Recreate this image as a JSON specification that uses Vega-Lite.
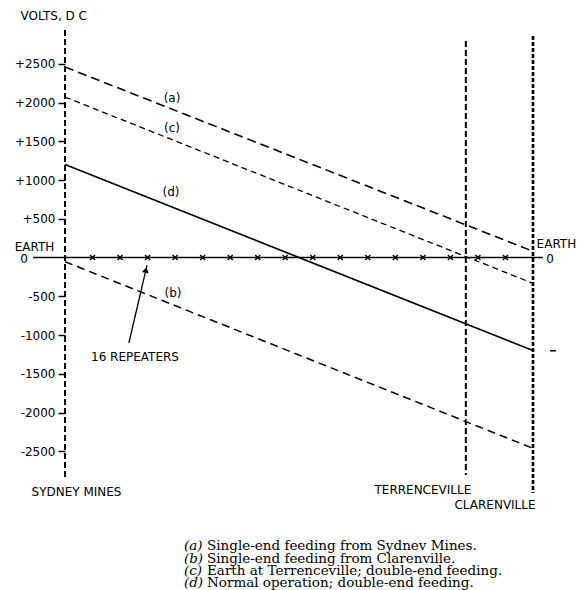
{
  "$schema": "https://vega.github.io/schema/vega-lite/v6.json",
  "width": 468,
  "height": 590,
  "autosize": "none",
  "padding": {"left": 65, "right": 46, "top": 0, "bottom": 0},
  "background": "white",
  "config": {"view": {"stroke": null}, "font": "DejaVu Sans"},
  "resolve": {"axis": {"x": "independent", "y": "independent"}},
  "datasets": {
    "stations": [
      {"name": "Sydney Mines", "x": 0, "v": 2935, "v2": -2871},
      {"name": "Terrenceville", "x": 14.56, "v": 2794, "v2": -2806},
      {"name": "Clarenville", "x": 17, "v": 2858, "v2": -3039}
    ],
    "lines": [
      {"series": "a", "x": 0, "v": 2458},
      {"series": "a", "x": 17, "v": 80},
      {"series": "c", "x": 0, "v": 2071},
      {"series": "c", "x": 17, "v": -333},
      {"series": "d", "x": 0, "v": 1200},
      {"series": "d", "x": 17, "v": -1200},
      {"series": "b", "x": 0, "v": -54},
      {"series": "b", "x": 17, "v": -2462},
      {"series": "zero", "x": -1.16, "v": 0},
      {"series": "zero", "x": 17.36, "v": 0},
      {"series": "arrow", "x": 2.32, "v": -1103},
      {"series": "arrow", "x": 2.98, "v": -97}
    ],
    "repeaters": [
      {"n": 1, "x": 1, "v": 0}, {"n": 2, "x": 2, "v": 0}, {"n": 3, "x": 3, "v": 0}, {"n": 4, "x": 4, "v": 0},
      {"n": 5, "x": 5, "v": 0}, {"n": 6, "x": 6, "v": 0}, {"n": 7, "x": 7, "v": 0}, {"n": 8, "x": 8, "v": 0},
      {"n": 9, "x": 9, "v": 0}, {"n": 10, "x": 10, "v": 0}, {"n": 11, "x": 11, "v": 0}, {"n": 12, "x": 12, "v": 0},
      {"n": 13, "x": 13, "v": 0}, {"n": 14, "x": 14, "v": 0}, {"n": 15, "x": 15, "v": 0}, {"n": 16, "x": 16, "v": 0}
    ],
    "labels": [
      {"text": "EARTH", "x": -1.108, "v": 140},
      {"text": "0", "x": -1.489, "v": -13},
      {"text": "(a)", "x": 3.887, "v": 2058},
      {"text": "(c)", "x": 3.887, "v": 1671},
      {"text": "(d)", "x": 3.85, "v": 845},
      {"text": "(b)", "x": 3.923, "v": -458},
      {"text": "16 REPEATERS", "x": 2.543, "v": -1284},
      {"text": "SYDNEY MINES", "x": 0.418, "v": -3026},
      {"text": "TERRENCEVILLE", "x": 13.0, "v": -3000},
      {"text": "CLARENVILLE", "x": 15.62, "v": -3194},
      {"text": "EARTH", "x": 17.85, "v": 170},
      {"text": "0", "x": 17.62, "v": -19}
    ],
    "captions": [
      {"tag": "(a)", "xt": 4.32, "x": 5.158, "v": -3723, "text": "Single-end feeding from Sydnev Mines."},
      {"tag": "(b)", "xt": 4.32, "x": 5.158, "v": -3884, "text": "Single-end feeding from Clarenville."},
      {"tag": "(c)", "xt": 4.32, "x": 5.158, "v": -4045, "text": "Earth at Terrenceville; double-end feeding."},
      {"tag": "(d)", "xt": 4.32, "x": 5.158, "v": -4206, "text": "Normal operation; double-end feeding."}
    ],
    "marks": [
      {"x": 17.62, "x2": 17.83, "v": -1203}
    ],
    "arrowhead": [
      {"x": 2.94, "v": -160}
    ]
  },
  "layer": [
    {
      "data": {"name": "stations"},
      "transform": [{"filter": "datum.name != 'Clarenville'"}],
      "mark": {"type": "rule", "color": "black", "strokeWidth": 2, "strokeDash": [6, 3]},
      "encoding": {
        "x": {"field": "x", "type": "quantitative", "scale": {"domain": [0, 17], "nice": false, "zero": false}, "axis": null},
        "y": {"field": "v", "type": "quantitative", "scale": {"domain": [-4290, 3323], "nice": false, "zero": false},
          "axis": {
            "values": [-2500, -2000, -1500, -1000, -500, 500, 1000, 1500, 2000, 2500],
            "labelExpr": "datum.value > 0 ? '+' + datum.value : '' + datum.value",
            "domain": false, "grid": false,
            "tickSize": 7, "tickWidth": 1.5, "tickColor": "black",
            "labelFont": "DejaVu Sans", "labelFontSize": 12, "labelColor": "black", "labelPadding": 3,
            "title": "VOLTS, D C", "titleAngle": 0, "titleX": -45, "titleY": 15,
            "titleAlign": "left", "titleBaseline": "middle", "titleFont": "DejaVu Sans",
            "titleFontSize": 12, "titleFontWeight": "normal", "titleColor": "black"
          }
        },
        "y2": {"field": "v2"}
      }
    },
    {
      "data": {"name": "stations"},
      "transform": [{"filter": "datum.name == 'Clarenville'"}],
      "mark": {"type": "rule", "color": "black", "strokeWidth": 2.6, "strokeDash": [4, 2]},
      "encoding": {
        "x": {"field": "x", "type": "quantitative", "scale": {"domain": [0, 17], "nice": false, "zero": false}, "axis": null},
        "y": {"field": "v", "type": "quantitative", "scale": {"domain": [-4290, 3323], "nice": false, "zero": false}, "axis": null},
        "y2": {"field": "v2"}
      }
    },
    {
      "data": {"name": "lines"},
      "transform": [{"filter": "datum.series == 'a'"}],
      "mark": {"type": "line", "color": "black", "strokeWidth": 1.6, "strokeDash": [9, 5]},
      "encoding": {
        "x": {"field": "x", "type": "quantitative", "scale": {"domain": [0, 17], "nice": false, "zero": false}, "axis": null},
        "y": {"field": "v", "type": "quantitative", "scale": {"domain": [-4290, 3323], "nice": false, "zero": false}, "axis": null}
      }
    },
    {
      "data": {"name": "lines"},
      "transform": [{"filter": "datum.series == 'b'"}],
      "mark": {"type": "line", "color": "black", "strokeWidth": 1.5, "strokeDash": [8, 5]},
      "encoding": {
        "x": {"field": "x", "type": "quantitative", "scale": {"domain": [0, 17], "nice": false, "zero": false}, "axis": null},
        "y": {"field": "v", "type": "quantitative", "scale": {"domain": [-4290, 3323], "nice": false, "zero": false}, "axis": null}
      }
    },
    {
      "data": {"name": "lines"},
      "transform": [{"filter": "datum.series == 'c'"}],
      "mark": {"type": "line", "color": "black", "strokeWidth": 1.3, "strokeDash": [6, 4]},
      "encoding": {
        "x": {"field": "x", "type": "quantitative", "scale": {"domain": [0, 17], "nice": false, "zero": false}, "axis": null},
        "y": {"field": "v", "type": "quantitative", "scale": {"domain": [-4290, 3323], "nice": false, "zero": false}, "axis": null}
      }
    },
    {
      "data": {"name": "lines"},
      "transform": [{"filter": "datum.series == 'd' || datum.series == 'zero' || datum.series == 'arrow'"}],
      "mark": {"type": "line", "color": "black"},
      "encoding": {
        "x": {"field": "x", "type": "quantitative", "scale": {"domain": [0, 17], "nice": false, "zero": false}, "axis": null},
        "y": {"field": "v", "type": "quantitative", "scale": {"domain": [-4290, 3323], "nice": false, "zero": false}, "axis": null},
        "detail": {"field": "series", "type": "nominal"},
        "strokeWidth": {"field": "series", "type": "nominal", "scale": {"domain": ["d", "zero", "arrow"], "range": [1.7, 1.3, 1.3]}, "legend": null}
      }
    },
    {
      "data": {"name": "repeaters"},
      "mark": {"type": "point", "shape": "M-1,-1L1,1M-1,1L1,-1", "filled": false, "color": "black", "strokeWidth": 1.4, "size": 25, "opacity": 1},
      "encoding": {
        "x": {"field": "x", "type": "quantitative", "scale": {"domain": [0, 17], "nice": false, "zero": false}, "axis": null},
        "y": {"field": "v", "type": "quantitative", "scale": {"domain": [-4290, 3323], "nice": false, "zero": false}, "axis": null}
      }
    },
    {
      "data": {"name": "arrowhead"},
      "mark": {"type": "point", "shape": "triangle-up", "filled": true, "color": "black", "size": 45, "angle": 13, "opacity": 1},
      "encoding": {
        "x": {"field": "x", "type": "quantitative", "scale": {"domain": [0, 17], "nice": false, "zero": false}, "axis": null},
        "y": {"field": "v", "type": "quantitative", "scale": {"domain": [-4290, 3323], "nice": false, "zero": false}, "axis": null}
      }
    },
    {
      "data": {"name": "marks"},
      "mark": {"type": "rule", "color": "black", "strokeWidth": 1.5},
      "encoding": {
        "x": {"field": "x", "type": "quantitative", "scale": {"domain": [0, 17], "nice": false, "zero": false}, "axis": null},
        "x2": {"field": "x2"},
        "y": {"field": "v", "type": "quantitative", "scale": {"domain": [-4290, 3323], "nice": false, "zero": false}, "axis": null}
      }
    },
    {
      "data": {"name": "labels"},
      "mark": {"type": "text", "font": "DejaVu Sans", "fontSize": 12, "align": "center", "baseline": "middle", "color": "black"},
      "encoding": {
        "x": {"field": "x", "type": "quantitative", "scale": {"domain": [0, 17], "nice": false, "zero": false}, "axis": null},
        "y": {"field": "v", "type": "quantitative", "scale": {"domain": [-4290, 3323], "nice": false, "zero": false}, "axis": null},
        "text": {"field": "text"}
      }
    },
    {
      "data": {"name": "captions"},
      "mark": {"type": "text", "font": "DejaVu Serif", "fontSize": 13.5, "fontStyle": "italic", "align": "left", "baseline": "middle", "color": "black"},
      "encoding": {
        "x": {"field": "xt", "type": "quantitative", "scale": {"domain": [0, 17], "nice": false, "zero": false}, "axis": null},
        "y": {"field": "v", "type": "quantitative", "scale": {"domain": [-4290, 3323], "nice": false, "zero": false}, "axis": null},
        "text": {"field": "tag"}
      }
    },
    {
      "data": {"name": "captions"},
      "mark": {"type": "text", "font": "DejaVu Serif", "fontSize": 13.5, "align": "left", "baseline": "middle", "color": "black"},
      "encoding": {
        "x": {"field": "x", "type": "quantitative", "scale": {"domain": [0, 17], "nice": false, "zero": false}, "axis": null},
        "y": {"field": "v", "type": "quantitative", "scale": {"domain": [-4290, 3323], "nice": false, "zero": false}, "axis": null},
        "text": {"field": "text"}
      }
    }
  ]
}
